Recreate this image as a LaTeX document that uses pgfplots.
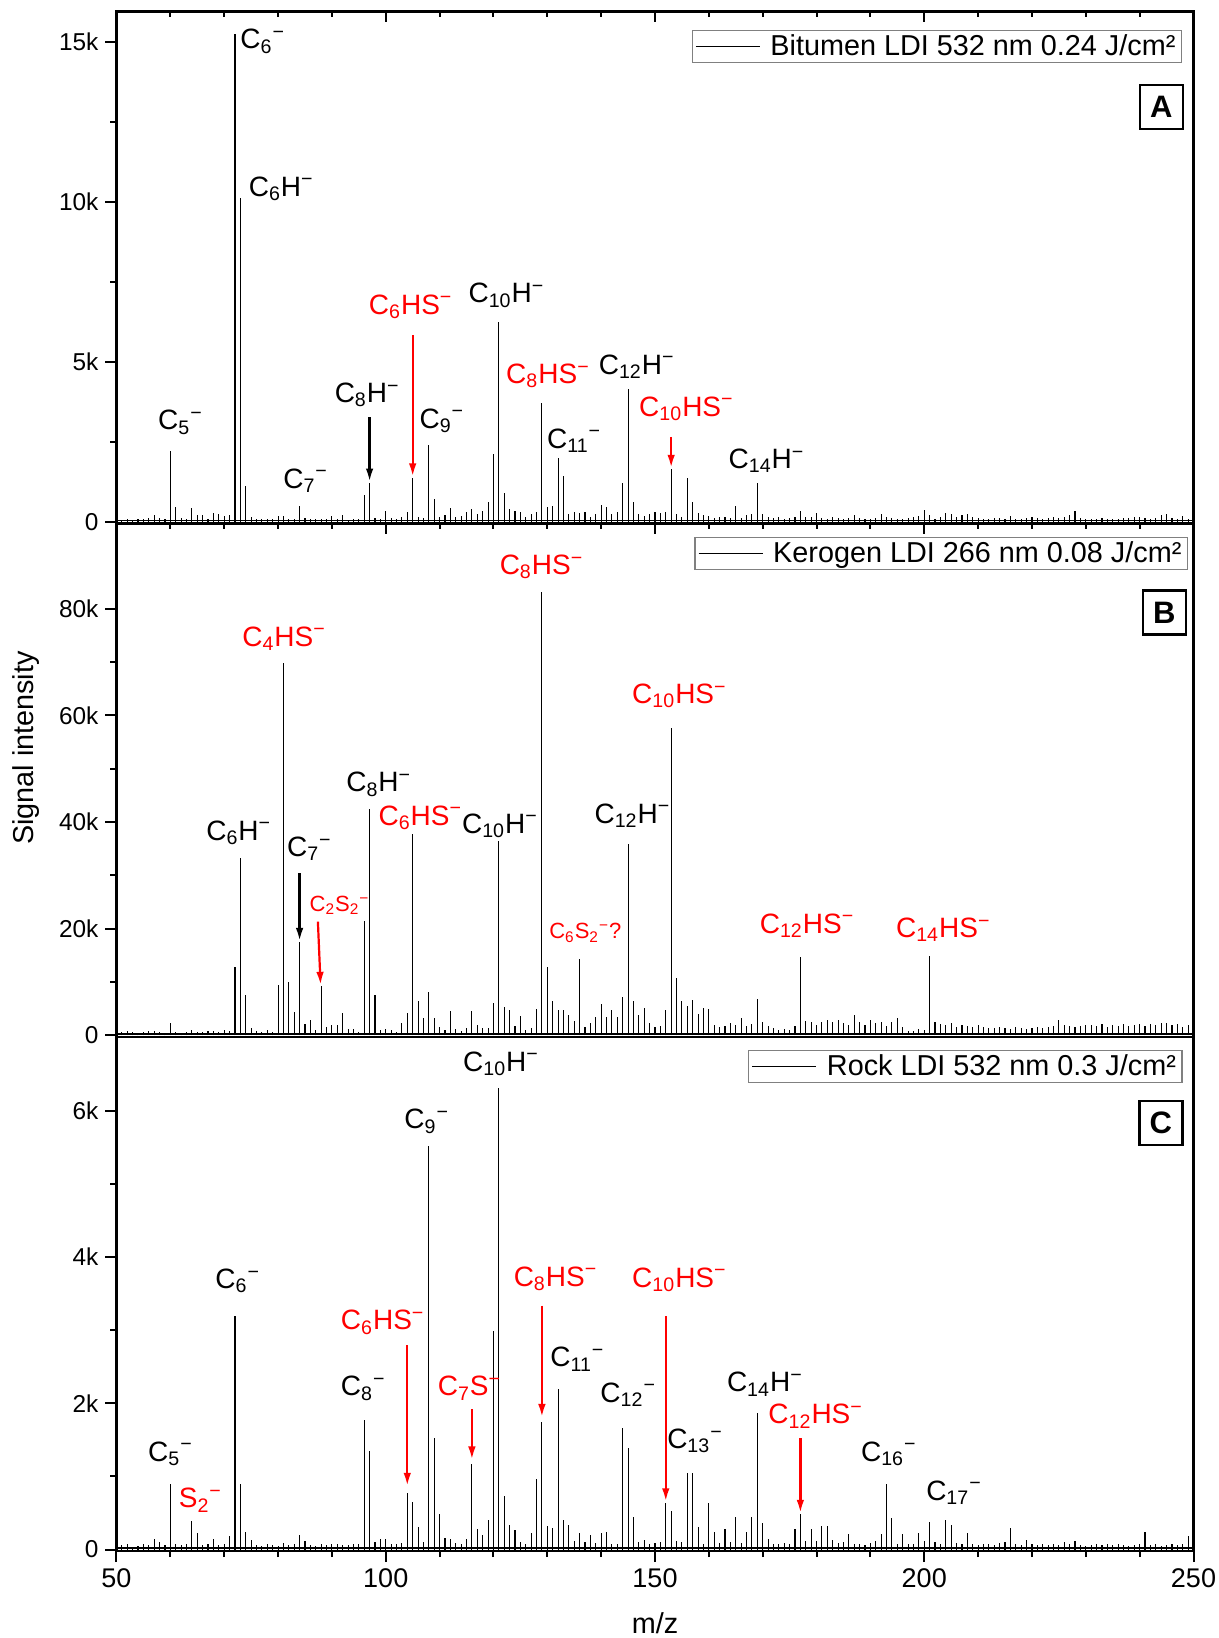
\documentclass[border=0pt]{standalone}
\usepackage{fontspec}
\setmainfont{Liberation Sans}
\usepackage{pgfplots}
\pgfplotsset{compat=1.18}
\usetikzlibrary{arrows.meta}

\newcommand{\fs}[1]{\fontsize{#1}{#1}\selectfont}
\newcommand{\sub}[1]{\textsubscript{#1}}
\newcommand{\mi}{\textsuperscript{−}}

\tikzset{
  lb/.style={anchor=base west, inner sep=0pt, font=\fs{14}},
  lbs/.style={anchor=base west, inner sep=0pt, font=\fs{11}},
  ar/.style={-{Latex[length=6.5pt,width=3.8pt]}, line width=1.1pt},
  letter/.style={draw, line width=1.1pt, font=\bfseries\fs{15.5}, minimum width=21.5pt, minimum height=22pt, inner sep=0pt, anchor=north east},
}

\pgfplotsset{
  panel/.style={
    scale only axis, width=538.5pt,
    xmin=50, xmax=250,
    scaled y ticks=false, scaled x ticks=false,
    axis line style={line width=1.3pt},
    axis on top,
    xtick={50,100,150,200,250},
    minor x tick num=4,
    minor y tick num=1,
    major tick length=5.5pt, minor tick length=3pt,
    every tick/.style={black, line width=1pt},
    ytick pos=left, ytick align=outside,
    yticklabel style={font=\fs{12.2}},
    xticklabel style={font=\fs{13.5}},
    legend image code/.code={\draw[black, line width=0.6pt] (0pt,0pt) -- (32pt,0pt); \path (35.5pt,0pt);},
    legend cell align=left,
    legend style={at={(rel axis cs:1,1)}, anchor=north east, draw=gray, line width=0.6pt,
      font=\fs{14.4}, inner xsep=1.5pt, inner ysep=0.5pt, nodes={inner sep=1.5pt}},
  },
  spec/.style={ycomb, black, line width=0.55pt, forget plot},
}

\begin{document}
\begin{tikzpicture}
% ---------------- Panel A ----------------
\begin{axis}[panel, at={(0pt,0pt)}, anchor=north west, height=255.95pt,
  ymin=-50, ymax=15950, ytick={0,5000,10000,15000}, yticklabels={0,5k,10k,15k},
  xtick pos=right, xtick align=inside, xticklabels={},
  legend style={xshift=-5.75pt, yshift=-9.3pt}]
\addplot[spec] coordinates {
(51,60) (52,80) (53,50) (54,90) (55,70) (56,110) (57,200) (58,120) (59,100) (60,2220)
(61,450) (62,130) (63,100) (64,420) (65,215) (66,215) (67,90) (68,270) (69,240) (70,180)
(71,200) (72,15230) (73,10130) (74,1120) (75,150) (76,100) (77,80) (78,70) (79,90) (80,180)
(81,170) (82,100) (83,80) (84,500) (85,120) (86,90) (87,80) (88,70) (89,90) (90,170)
(91,80) (92,200) (93,60) (94,80) (95,90) (96,820) (97,1220) (98,120) (99,90) (100,330)
(101,120) (102,80) (103,150) (104,310) (105,1360) (106,150) (107,110) (108,2400) (109,720) (110,160)
(111,220) (112,420) (113,150) (114,180) (115,300) (116,400) (117,230) (118,330) (119,610) (120,2110)
(121,6250) (122,900) (123,400) (124,340) (125,300) (126,150) (127,240) (128,300) (129,3720) (130,450)
(131,500) (132,1990) (133,1420) (134,250) (135,300) (136,270) (137,300) (138,160) (139,250) (140,530)
(141,450) (142,250) (143,300) (144,1200) (145,4150) (146,610) (147,250) (148,180) (149,250) (150,300)
(151,260) (152,300) (153,1650) (154,250) (155,150) (156,1360) (157,610) (158,280) (159,200) (160,170)
(161,120) (162,150) (163,160) (164,120) (165,480) (166,120) (167,200) (168,250) (169,1200) (170,250)
(171,150) (172,120) (173,150) (174,100) (175,120) (176,140) (177,340) (178,150) (179,140) (180,260)
(181,120) (182,100) (183,150) (184,120) (185,100) (186,110) (187,200) (188,120) (189,100) (190,90)
(191,110) (192,250) (193,140) (194,120) (195,100) (196,90) (197,120) (198,150) (199,180) (200,360)
(201,200) (202,100) (203,140) (204,260) (205,230) (206,160) (207,200) (208,230) (209,150) (210,120)
(211,100) (212,90) (213,110) (214,120) (215,100) (216,180) (217,100) (218,90) (219,120) (220,150)
(221,110) (222,100) (223,120) (224,140) (225,130) (226,150) (227,200) (228,340) (229,120) (230,100)
(231,90) (232,80) (233,110) (234,100) (235,90) (236,100) (237,130) (238,120) (239,150) (240,140)
(241,110) (242,90) (243,120) (244,200) (245,250) (246,120) (247,100) (248,180) (249,80)
};
\addplot[black, line width=0.8pt, forget plot] coordinates {(50,40) (250,40)};
\addlegendimage{black}
\addlegendentry{Bitumen LDI 532 nm 0.24 J/cm²}
\node[letter, xshift=-4.75pt, yshift=-36.4pt] at (rel axis cs:1,1) {A};
\node[lb] at (axis cs:72.95,14784) {C\sub{6}\mi};
\node[lb] at (axis cs:74.5,10167) {C\sub{6}H\mi};
\node[lb] at (axis cs:57.66,2867) {C\sub{5}\mi};
\node[lb] at (axis cs:80.9,1041) {C\sub{7}\mi};
\node[lb] at (axis cs:90.46,3726) {C\sub{8}H\mi};
\node[lb, text=red] at (axis cs:96.8,6485) {C\sub{6}HS\mi};
\node[lb] at (axis cs:106.2,2920) {C\sub{9}\mi};
\node[lb] at (axis cs:115.3,6839) {C\sub{10}H\mi};
\node[lb, text=red] at (axis cs:122.3,4316) {C\sub{8}HS\mi};
\node[lb] at (axis cs:129.9,2298) {C\sub{11}\mi};
\node[lb] at (axis cs:139.5,4606) {C\sub{12}H\mi};
\node[lb, text=red] at (axis cs:147.0,3296) {C\sub{10}HS\mi};
\node[lb] at (axis cs:163.6,1664) {C\sub{14}H\mi};
\draw[ar, black] (axis cs:97,3264) -- (axis cs:97,1256);
\draw[ar, red] (axis cs:105,5820) -- (axis cs:105,1417);
\draw[ar, red] (axis cs:153,2652) -- (axis cs:153,1686);
\end{axis}
% ---------------- Panel B ----------------
\begin{axis}[panel, at={(0pt,-255.95pt)}, anchor=north west, height=256.85pt,
  ymin=-300, ymax=96000, ytick={0,20000,40000,60000,80000}, yticklabels={0,20k,40k,60k,80k},
  xtick pos=right, xtick align=inside, xticklabels={},
  legend style={xshift=-2.75pt, yshift=-6.85pt}]
\addplot[spec] coordinates {
(51,600) (52,900) (53,700) (54,500) (55,600) (56,800) (57,870) (58,700) (59,500) (60,2300)
(61,600) (62,500) (63,700) (64,1060) (65,700) (66,600) (67,800) (68,900) (69,700) (70,1000)
(71,800) (72,12900) (73,33200) (74,7490) (75,1300) (76,900) (77,700) (78,1000) (79,600) (80,9480)
(81,69800) (82,9980) (83,4370) (84,17600) (85,2100) (86,2930) (87,1060) (88,9300) (89,1500) (90,1870)
(91,2000) (92,4120) (93,1200) (94,1260) (95,700) (96,21500) (97,42400) (98,7490) (99,1100) (100,1200)
(101,1100) (102,700) (103,2300) (104,4120) (105,37700) (106,6370) (107,3240) (108,8110) (109,3200) (110,1500)
(111,1000) (112,4620) (113,1200) (114,900) (115,1300) (116,4620) (117,2000) (118,1300) (119,1380) (120,6050)
(121,36400) (122,5240) (123,4800) (124,1700) (125,3560) (126,1000) (127,1300) (128,4990) (129,83100) (130,12790)
(131,6490) (132,4680) (133,4680) (134,3740) (135,2620) (136,14350) (137,1500) (138,2300) (139,3500) (140,5870)
(141,3500) (142,4800) (143,3500) (144,7240) (145,35800) (146,6490) (147,3740) (148,5120) (149,2300) (150,1500)
(151,1700) (152,4680) (153,57600) (154,10730) (155,6370) (156,5600) (157,6680) (158,4000) (159,5120) (160,4990)
(161,2000) (162,1600) (163,1800) (164,2400) (165,2000) (166,3240) (167,1800) (168,2100) (169,6860) (170,2500)
(171,1800) (172,1300) (173,1000) (174,1200) (175,1100) (176,1800) (177,14790) (178,2740) (179,2600) (180,2000)
(181,2600) (182,2900) (183,2500) (184,2800) (185,2400) (186,2000) (187,3740) (188,2500) (189,2000) (190,2800)
(191,2300) (192,2600) (193,1800) (194,2600) (195,3240) (196,1600) (197,800) (198,900) (199,1200) (200,1000)
(201,14980) (202,2600) (203,2200) (204,2000) (205,2400) (206,1600) (207,2000) (208,1800) (209,1500) (210,2000)
(211,1600) (212,1400) (213,1300) (214,1500) (215,1400) (216,1200) (217,1600) (218,1300) (219,1200) (220,1400)
(221,1500) (222,1300) (223,1600) (224,1700) (225,2930) (226,2000) (227,1800) (228,1600) (229,1800) (230,2000)
(231,1900) (232,1700) (233,2200) (234,1600) (235,2000) (236,1800) (237,2200) (238,1700) (239,2000) (240,2100)
(241,1800) (242,2200) (243,1900) (244,2300) (245,2400) (246,2000) (247,2200) (248,1500) (249,2000)
};
\addplot[black, line width=0.8pt, forget plot] coordinates {(50,300) (250,300)};
\addlegendimage{black}
\addlegendentry{Kerogen LDI 266 nm 0.08 J/cm²}
\node[letter, xshift=-3.3pt, yshift=-33pt] at (rel axis cs:1,1) {B};
\node[lb] at (axis cs:66.6,36630) {C\sub{6}H\mi};
\node[lb, text=red] at (axis cs:73.3,72950) {C\sub{4}HS\mi};
\node[lb] at (axis cs:81.6,33510) {C\sub{7}\mi};
\node[lbs, text=red] at (axis cs:85.8,23210) {C\sub{2}S\sub{2}\mi};
\node[lb] at (axis cs:92.6,45680) {C\sub{8}H\mi};
\node[lb, text=red] at (axis cs:98.6,39440) {C\sub{6}HS\mi};
\node[lb] at (axis cs:114.1,37880) {C\sub{10}H\mi};
\node[lb, text=red] at (axis cs:121.1,86370) {C\sub{8}HS\mi};
\node[lbs, text=red] at (axis cs:130.3,18100) {C\sub{6}S\sub{2}\mi?};
\node[lb] at (axis cs:138.7,39750) {C\sub{12}H\mi};
\node[lb, text=red] at (axis cs:145.7,62220) {C\sub{10}HS\mi};
\node[lb, text=red] at (axis cs:169.4,19160) {C\sub{12}HS\mi};
\node[lb, text=red] at (axis cs:194.7,18350) {C\sub{14}HS\mi};
\draw[ar, black] (axis cs:84,30390) -- (axis cs:84,17720);
\draw[ar, red] (axis cs:87.4,21340) -- (axis cs:87.9,9480);
\end{axis}
% ---------------- Panel C ----------------
\begin{axis}[panel, at={(0pt,-512.8pt)}, anchor=north west, height=257pt,
  ymin=-20, ymax=7010, ytick={0,2000,4000,6000}, yticklabels={0,2k,4k,6k},
  xtick pos=left, xtick align=outside, xticklabels={50,100,150,200,250},
  legend style={xshift=-5.5pt, yshift=-6.5pt}]
\addplot[spec] coordinates {
(51,60) (52,70) (53,40) (54,50) (55,80) (56,60) (57,150) (58,110) (59,60) (60,890)
(61,70) (62,60) (63,80) (64,390) (65,220) (66,60) (67,70) (68,150) (69,60) (70,80)
(71,190) (72,3190) (73,890) (74,240) (75,130) (76,60) (77,50) (78,70) (79,60) (80,50)
(81,95) (82,60) (83,70) (84,200) (85,120) (86,60) (87,50) (88,70) (89,60) (90,80)
(91,70) (92,60) (93,60) (94,70) (95,80) (96,1770) (97,1350) (98,110) (99,150) (100,150)
(101,80) (102,70) (103,90) (104,780) (105,650) (106,310) (107,110) (108,5520) (109,1520) (110,490)
(111,160) (112,150) (113,90) (114,80) (115,140) (116,1170) (117,280) (118,200) (119,410) (120,2990)
(121,6310) (122,730) (123,340) (124,270) (125,100) (126,80) (127,230) (128,960) (129,1750) (130,320)
(131,290) (132,2190) (133,400) (134,330) (135,120) (136,230) (137,100) (138,200) (139,90) (140,230)
(141,240) (142,80) (143,70) (144,1660) (145,1390) (146,440) (147,100) (148,130) (149,70) (150,90)
(151,100) (152,640) (153,530) (154,120) (155,100) (156,1050) (157,1050) (158,310) (159,80) (160,640)
(161,240) (162,90) (163,280) (164,100) (165,440) (166,90) (167,240) (168,440) (169,1870) (170,360)
(171,150) (172,80) (173,70) (174,90) (175,80) (176,280) (177,480) (178,120) (179,280) (180,120)
(181,320) (182,320) (183,130) (184,90) (185,100) (186,210) (187,80) (188,70) (189,60) (190,90)
(191,120) (192,210) (193,890) (194,430) (195,80) (196,210) (197,80) (198,70) (199,230) (200,120)
(201,370) (202,100) (203,80) (204,410) (205,340) (206,90) (207,80) (208,220) (209,70) (210,60)
(211,80) (212,70) (213,60) (214,90) (215,100) (216,300) (217,80) (218,60) (219,130) (220,70)
(221,60) (222,80) (223,60) (224,70) (225,60) (226,110) (227,70) (228,120) (229,60) (230,50)
(231,60) (232,70) (233,60) (234,80) (235,60) (236,70) (237,60) (238,50) (239,60) (240,70)
(241,240) (242,60) (243,70) (244,50) (245,60) (246,70) (247,60) (248,80) (249,180)
};
\addplot[black, line width=1.2pt, forget plot] coordinates {(50,25) (250,25)};
\addlegendimage{black}
\addlegendentry{Rock LDI 532 nm 0.3 J/cm²}
\node[letter, xshift=-5pt, yshift=-31.5pt] at (rel axis cs:1,1) {C};
\node[lb] at (axis cs:55.8,1205) {C\sub{5}\mi};
\node[lb, text=red] at (axis cs:61.5,571) {S\sub{2}\mi};
\node[lb] at (axis cs:68.3,3569) {C\sub{6}\mi};
\node[lb] at (axis cs:91.6,2104) {C\sub{8}\mi};
\node[lb, text=red] at (axis cs:91.6,3003) {C\sub{6}HS\mi};
\node[lb] at (axis cs:103.4,5752) {C\sub{9}\mi};
\node[lb] at (axis cs:114.3,6545) {C\sub{10}H\mi};
\node[lb, text=red] at (axis cs:109.6,2104) {C\sub{7}S\mi};
\node[lb, text=red] at (axis cs:123.7,3600) {C\sub{8}HS\mi};
\node[lb] at (axis cs:130.5,2501) {C\sub{11}\mi};
\node[lb] at (axis cs:139.8,2014) {C\sub{12}\mi};
\node[lb, text=red] at (axis cs:145.7,3585) {C\sub{10}HS\mi};
\node[lb] at (axis cs:152.2,1380) {C\sub{13}\mi};
\node[lb] at (axis cs:163.3,2157) {C\sub{14}H\mi};
\node[lb, text=red] at (axis cs:171.0,1718) {C\sub{12}HS\mi};
\node[lb] at (axis cs:188.2,1205) {C\sub{16}\mi};
\node[lb] at (axis cs:200.3,677) {C\sub{17}\mi};
\draw[ar, red] (axis cs:104,2791) -- (axis cs:104,872);
\draw[ar, red] (axis cs:116,1919) -- (axis cs:116,1232);
\draw[ar, red] (axis cs:129,3336) -- (axis cs:129,1813);
\draw[ar, red] (axis cs:152,3188) -- (axis cs:152,660);
\draw[ar, red] (axis cs:177,1523) -- (axis cs:177,502);
\end{axis}
\node[rotate=90, font=\fs{14.4}] at (-45.25pt,-368.3pt) {Signal intensity};
\node[font=\fs{14.4}] at (269.25pt,-805.8pt) {m/z};
\pgfresetboundingbox
\path (-58.25pt,-813.3pt) rectangle (551.25pt,5.7pt);
\end{tikzpicture}
\end{document}
